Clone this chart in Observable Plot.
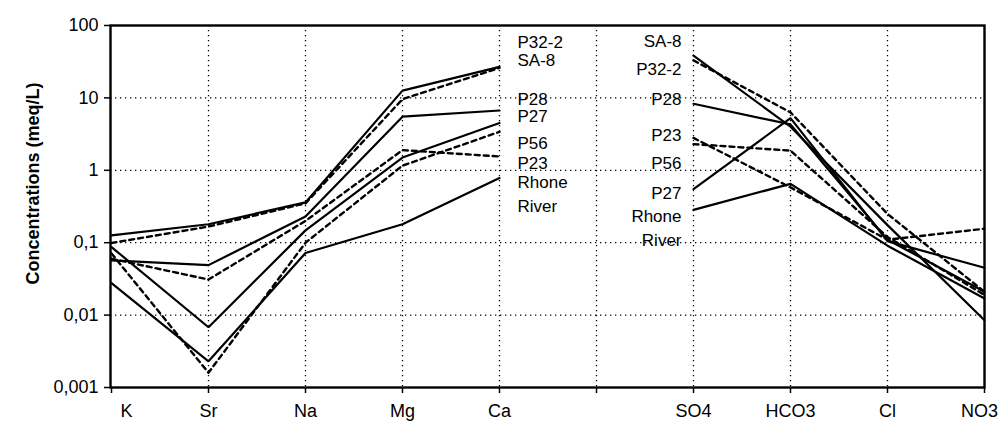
<!DOCTYPE html>
<html>
<head>
<meta charset="utf-8">
<script src="https://cdn.jsdelivr.net/npm/d3@7"></script>
<script src="https://cdn.jsdelivr.net/npm/@observablehq/plot@0.6"></script>
<style>
  html, body { margin: 0; padding: 0; background: #fff; }
  #chart { width: 1001px; height: 425px; }
</style>
</head>
<body>
<div id="chart"></div>
<script>
// ---- data ----
const categories = ["K", "Sr", "Na", "Mg", "Ca", " ", "SO4", "HCO3", "Cl", "NO3"];
const cations = ["K", "Sr", "Na", "Mg", "Ca"];
const anions = ["SO4", "HCO3", "Cl", "NO3"];
const samples = ["SA-8", "P32-2", "P28", "P27", "P56", "P23", "Rhone River"];
const dashedSamples = ["P32-2", "P56", "P23"];

// cation values (meq/L): K, Sr, Na, Mg, Ca
const cationValues = {
  "SA-8":        [0.126, 0.18,   0.36,  12.6, 26.8],
  "P32-2":       [0.099, 0.167,  0.35,  9.6,  26],
  "P28":         [0.057, 0.049,  0.23,  5.5,  6.7],
  "P27":         [0.087, 0.0068, 0.148, 1.5,  4.5],
  "P56":         [0.071, 0.0016, 0.10,  1.16, 3.4],
  "P23":         [0.060, 0.031,  0.20,  1.9,  1.55],
  "Rhone River": [0.0276, 0.0023, 0.072, 0.18, 0.78]
};
// anion values (meq/L): SO4, HCO3, Cl, NO3
const anionValues = {
  "SA-8":        [38.5, 4.0,  0.175, 0.0085],
  "P32-2":       [33,   6.3,  0.25,  0.021],
  "P28":         [8.3,  4.3,  0.11,  0.021],
  "P27":         [0.55, 5.25, 0.105, 0.045],
  "P56":         [2.3,  1.87, 0.12,  0.019],
  "P23":         [2.8,  0.58, 0.11,  0.156],
  "Rhone River": [0.284, 0.65, 0.091, 0.017]
};

const yTicks = [0.001, 0.01, 0.1, 1, 10, 100];
const yGrid = [0.01, 0.1, 1, 10];

// label texts with their anchor concentration
const caLabelText = ["P32-2", "SA-8", "P28", "P27", "P56", "P23", "Rhone", "River"];
const caLabelY    = [58, 33, 9.5, 5.5, 2.35, 1.24, 0.68, 0.316];
const so4LabelText = ["SA-8", "P32-2", "P28", "P23", "P56", "P27", "Rhone", "River"];
const so4LabelY    = [60, 24.7, 9.5, 3.03, 1.24, 0.48, 0.23, 0.107];

const yTitle = "Concentrations (meq/L)";

// ---- build tables ----
const rows = [];
for (const s of samples) {
  cations.forEach((ion, i) => rows.push({sample: s, group: s + "|cat", ion, value: cationValues[s][i]}));
  anions.forEach((ion, i) => rows.push({sample: s, group: s + "|an", ion, value: anionValues[s][i]}));
}
const solidRows = rows.filter(d => !dashedSamples.includes(d.sample));
const dashedRows = rows.filter(d => dashedSamples.includes(d.sample));
const caLabels = caLabelText.map((t, i) => ({t, y: caLabelY[i]}));
const so4Labels = so4LabelText.map((t, i) => ({t, y: so4LabelY[i]}));

const fmt = d => String(d).replace(".", ",");
const FONT = "Arial, 'Liberation Sans', sans-serif";
const plainTicks = categories.filter(c => c !== "K" && c !== "NO3");

const chart = Plot.plot({
  width: 1001,
  height: 425,
  marginLeft: 110,
  marginRight: 17,
  marginTop: 25,
  marginBottom: 38,
  style: {fontFamily: FONT, fontSize: "18px", background: "#fff", color: "#000"},
  x: {type: "point", domain: categories, padding: 0},
  y: {type: "log", domain: [0.001, 100]},
  marks: [
    Plot.gridY(yGrid, {stroke: "#000", strokeOpacity: 1, strokeWidth: 1.3, strokeDasharray: "1.3,3.7"}),
    Plot.gridX(categories.slice(1, -1), {stroke: "#000", strokeOpacity: 1, strokeWidth: 1.3, strokeDasharray: "1.3,3.7"}),
    Plot.line(solidRows, {x: "ion", y: "value", z: "group", stroke: "#000", strokeWidth: 2.2, strokeLinejoin: "miter"}),
    Plot.line(dashedRows, {x: "ion", y: "value", z: "group", stroke: "#000", strokeWidth: 2.4, strokeDasharray: "5,4"}),
    Plot.frame({stroke: "#000", strokeWidth: 2.4}),
    Plot.axisY({ticks: yTicks, tickFormat: fmt, tickSize: 6, tickPadding: 6, label: null, fontSize: 18, stroke: "#000", strokeWidth: 1.5}),
    Plot.axisX({ticks: categories, tickFormat: d => (plainTicks.includes(d) ? d : ""), tickSize: 6, tickPadding: 11, label: null, fontSize: 18, stroke: "#000", strokeWidth: 1.5}),
    Plot.axisX({ticks: ["K"], tickSize: 0, tickPadding: 17, dx: 15, label: null, fontSize: 18}),
    Plot.axisX({ticks: ["NO3"], tickSize: 0, tickPadding: 17, dx: -5, label: null, fontSize: 18}),
    Plot.text(caLabels, {x: () => "Ca", y: "y", text: "t", textAnchor: "start", dx: 18, fontSize: 17}),
    Plot.text(so4Labels, {x: () => "SO4", y: "y", text: "t", textAnchor: "end", dx: -12, fontSize: 17}),
    Plot.text([yTitle], {frameAnchor: "left", textAnchor: "middle", rotate: -90, dx: -77, dy: -23, text: d => d, fontSize: 18, fontWeight: "bold"})
  ]
});
document.getElementById("chart").appendChild(chart);
</script>
</body>
</html>
